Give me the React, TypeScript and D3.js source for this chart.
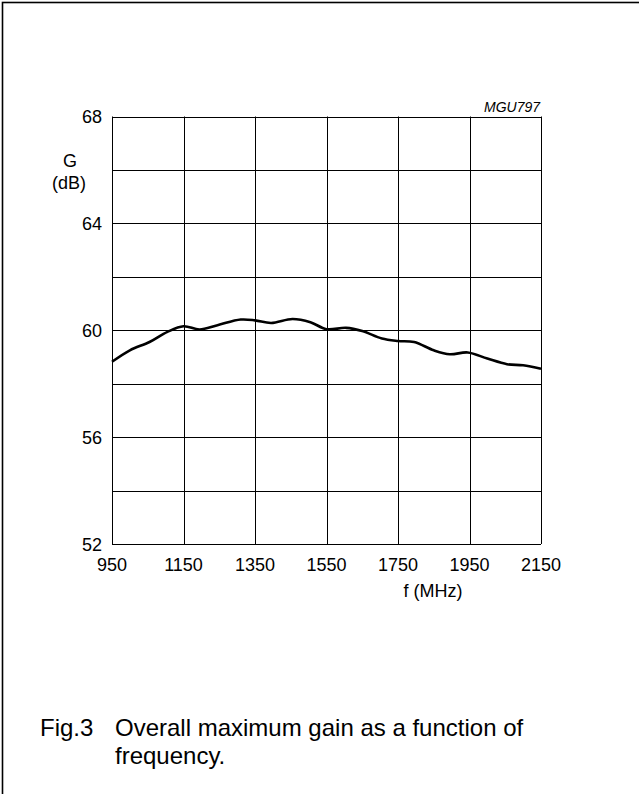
import { useEffect, useRef } from "react";
import * as d3 from "d3";

// frequency (MHz) and overall maximum gain G (dB)
const freq = [950, 1000, 1055, 1105, 1150, 1195, 1245, 1310, 1350, 1395, 1455, 1505, 1550, 1605, 1650, 1705, 1750, 1795, 1850, 1895, 1945, 2000, 2055, 2100, 2150];
const gain = [58.82, 59.25, 59.56, 59.94, 60.15, 60.03, 60.19, 60.4, 60.37, 60.27, 60.42, 60.3, 60.04, 60.09, 59.97, 59.69, 59.6, 59.56, 59.25, 59.1, 59.17, 58.94, 58.73, 58.69, 58.56];

const xTicks = [950, 1150, 1350, 1550, 1750, 1950, 2150];
const yTicks = [52, 56, 60, 64, 68];
const yGrid = [52, 54, 56, 58, 60, 62, 64, 66, 68];

const W = 639,
  H = 794;
const plot = { left: 112, top: 116.5, right: 541, bottom: 544 };
const font = "'Liberation Sans', Arial, Helvetica, sans-serif";

function App() {
  const svgRef = useRef(null);

  useEffect(() => {
    const svg = d3.select(svgRef.current);
    svg.selectAll("*").remove();

    const x = d3.scaleLinear().domain([950, 2150]).range([plot.left, plot.right]);
    const y = d3.scaleLinear().domain([52, 68]).range([plot.bottom, plot.top]);

    // outer frame, cut off at right and bottom
    svg
      .append("rect")
      .attr("x", 2.5)
      .attr("y", 2.5)
      .attr("width", W + 10)
      .attr("height", H + 10)
      .attr("fill", "none")
      .attr("stroke", "#000")
      .attr("stroke-width", 1.6);

    const g = svg.append("g");

    // grid
    g.selectAll("vline")
      .data(xTicks)
      .enter()
      .append("line")
      .attr("x1", (d) => Math.round(x(d)) + 0.5)
      .attr("x2", (d) => Math.round(x(d)) + 0.5)
      .attr("y1", plot.top)
      .attr("y2", plot.bottom)
      .attr("stroke", "#000")
      .attr("stroke-width", 1);

    g.selectAll("hline")
      .data(yGrid)
      .enter()
      .append("line")
      .attr("x1", plot.left)
      .attr("x2", plot.right)
      .attr("y1", (d) => Math.round(y(d)) + 0.5)
      .attr("y2", (d) => Math.round(y(d)) + 0.5)
      .attr("stroke", "#000")
      .attr("stroke-width", 1);

    // curve
    const line = d3
      .line<number>()
      .x((d, i) => x(freq[i]))
      .y((d) => y(d))
      .curve(d3.curveCatmullRom.alpha(0.5));

    g.append("path")
      .datum(gain)
      .attr("d", line)
      .attr("fill", "none")
      .attr("stroke", "#000")
      .attr("stroke-width", 2.6)
      .attr("stroke-linejoin", "round");

    // tick labels
    g.selectAll("ylab")
      .data(yTicks)
      .enter()
      .append("text")
      .attr("x", 102)
      .attr("y", (d) => y(d) + 6.5)
      .attr("text-anchor", "end")
      .attr("font-family", font)
      .attr("font-size", 18)
      .text((d) => d);

    g.selectAll("xlab")
      .data(xTicks)
      .enter()
      .append("text")
      .attr("x", (d) => x(d))
      .attr("y", plot.bottom + 27)
      .attr("text-anchor", "middle")
      .attr("font-family", font)
      .attr("font-size", 18)
      .text((d) => d);

    // axis titles
    g.append("text")
      .attr("x", 70)
      .attr("y", 167)
      .attr("text-anchor", "middle")
      .attr("font-family", font)
      .attr("font-size", 18)
      .text("G");
    g.append("text")
      .attr("x", 69)
      .attr("y", 189)
      .attr("text-anchor", "middle")
      .attr("font-family", font)
      .attr("font-size", 18)
      .text("(dB)");
    g.append("text")
      .attr("x", 433)
      .attr("y", 597)
      .attr("text-anchor", "middle")
      .attr("font-family", font)
      .attr("font-size", 18)
      .text("f (MHz)");

    g.append("text")
      .attr("x", 540)
      .attr("y", 112)
      .attr("text-anchor", "end")
      .attr("font-family", font)
      .attr("font-style", "italic")
      .attr("font-size", 14)
      .text("MGU797");

    // caption
    const cap = g.append("g").attr("font-family", font).attr("font-size", 24);
    cap.append("text").attr("x", 40).attr("y", 736).text("Fig.3");
    cap.append("text").attr("x", 115).attr("y", 736).text("Overall maximum gain as a function of");
    cap.append("text").attr("x", 115).attr("y", 764).text("frequency.");
  }, []);

  return (
    <div style={{ position: "absolute", left: 0, top: 0, width: W, height: H, overflow: "hidden", background: "#fff" }}>
      <svg ref={svgRef} width={W} height={H} style={{ display: "block" }}></svg>
    </div>
  );
}

export default App;
